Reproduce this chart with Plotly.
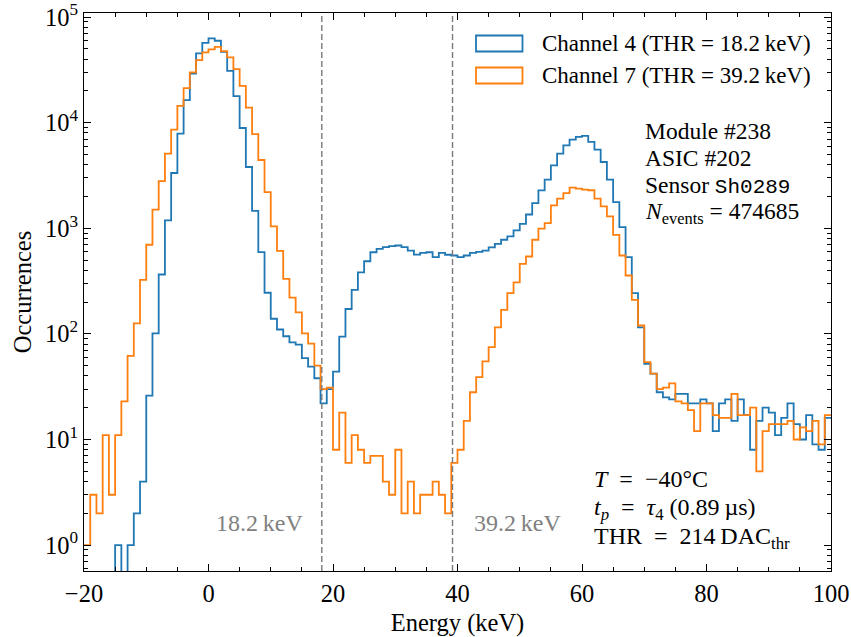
import numpy as np
import plotly.graph_objects as go

# ---------------- data ----------------
bin_left = list(range(-20, 100))          # 1 keV bins, left edges

ch4_counts = [
    0, 0, 0, 0, 0, 1, 0, 1, 2, 4,                       # -20 .. -11
    26, 101, 365, 1186, 3335, 7870, 16300, 29200, 45200, 57000,   # -10 .. -1
    62800, 59600, 46800, 30900, 17800, 8900, 3800, 1460, 595, 245,  # 0 .. 9
    139, 110, 95, 83, 79, 59, 49, 38, 22, 30,           # 10 .. 19
    44, 94, 172, 261, 383, 487, 593, 638, 662, 677,     # 20 .. 29
    687, 662, 615, 564, 585, 593, 532, 585, 561, 552,   # 30 .. 39
    532, 552, 585, 598, 615, 658, 710, 778, 836, 953,   # 40 .. 49
    1100, 1350, 1730, 2285, 2885, 3944, 5090, 6100, 6900, 7320,  # 50 .. 59
    7480, 6560, 5560, 4240, 2885, 1770, 1025, 532, 243, 115,     # 60 .. 69
    52, 42, 28, 25, 24, 27, 27, 22, 22, 24,             # 70 .. 79
    22, 12, 22, 24, 15, 24, 17, 8, 15, 20,              # 80 .. 89
    18, 11, 16, 22, 14, 10, 17, 9, 8, 16,               # 90 .. 99
]

ch7_counts = [
    1, 3, 2, 11, 3, 11, 23, 62, 126, 325,               # -20 .. -11
    698, 1500, 2800, 5090, 8600, 14400, 21200, 29900, 39000, 46200,  # -10 .. -1
    49400, 52200, 47600, 41500, 32100, 22300, 13900, 7800, 4430, 2200,  # 0 .. 9
    1040, 612, 331, 220, 160, 101, 81, 50, 30, 31,      # 10 .. 19
    8, 18, 6, 11, 8, 6, 7, 7, 4, 3,                     # 20 .. 29
    8, 2, 4, 2, 3, 3, 4, 3, 2, 6,                       # 30 .. 39
    8, 15, 28, 39, 55, 75, 115, 169, 243, 308,          # 40 .. 49
    460, 540, 778, 990, 1120, 1645, 1905, 2150, 2420, 2370,  # 50 .. 59
    2320, 2290, 1905, 1610, 1295, 867, 552, 357, 210, 120,   # 60 .. 69
    54, 42, 30, 31, 34, 23, 22, 19, 12, 22,             # 70 .. 79
    22, 17, 16, 16, 27, 17, 17, 20, 5, 12,              # 80 .. 89
    14, 14, 14, 15, 10, 13, 12, 15, 9, 17,              # 90 .. 99
]

bin_width = 1.0
thresholds = [18.2, 39.2]
threshold_labels = ["18.2\u2009keV", "39.2\u2009keV"]
series_names = ["Channel 4 (THR = 18.2\u2009keV)", "Channel 7 (THR = 39.2\u2009keV)"]
series_colors = ["#1f77b4", "#ff7f0e"]

x_tick_vals = [-20, 0, 20, 40, 60, 80, 100]
x_tick_text = ["\u221220", "0", "20", "40", "60", "80", "100"]
y_tick_vals = [1, 10, 100, 1000, 10000, 100000]
y_tick_text = ["10<sup>%d</sup>" % k for k in range(6)]

# ---------------- figure ----------------
W, H = 851, 637
ML, MR, MT, MB = 84, 20, 13, 66
PW, PH = W - ML - MR, H - MT - MB

def px(x):
    return (x - ML) / PW

def py(y):
    return (H - MB - y) / PH

FONT = "Liberation Serif"
EN = "\u2002"

fig = go.Figure()
edges = list(bin_left) + [bin_left[-1] + bin_width]
for counts, color in zip([ch4_counts, ch7_counts], series_colors):
    yv = [c if c > 0 else 1e-3 for c in counts]
    yv = yv + [yv[-1]]
    fig.add_trace(go.Scatter(x=edges, y=yv, mode="lines",
                             line=dict(color=color, width=1.8, shape="hv"),
                             showlegend=False, hoverinfo="skip"))

shapes = []
for t in thresholds:
    shapes.append(dict(type="line", xref="x", yref="paper", x0=t, x1=t, y0=0, y1=1,
                       line=dict(color="#7a7a7a", width=1.4, dash="6px,3px")))

# legend drawn by hand (rectangle patches like matplotlib step histograms)
leg_rows = [43.5, 75.5]
for yc, color in zip(leg_rows, series_colors):
    shapes.append(dict(type="rect", xref="paper", yref="paper",
                       x0=px(476), x1=px(522.5), y0=py(yc - 8), y1=py(yc + 8),
                       line=dict(color=color, width=1.8), fillcolor="rgba(0,0,0,0)"))

annotations = []
for yc, name in zip(leg_rows, series_names):
    annotations.append(dict(xref="paper", yref="paper", x=px(540), y=py(yc),
                            xanchor="left", yanchor="middle", showarrow=False,
                            text=name, font=dict(family=FONT, size=23, color="black")))

info_lines = [
    "Module #238",
    "ASIC #202",
    "Sensor <span style=\"font-family:'Liberation Mono';font-size:21px\">Sh0289</span>",
    "<i>N</i><sub>events</sub> = 474685",
]
for i, txt in enumerate(info_lines):
    annotations.append(dict(xref="paper", yref="paper", x=px(643), y=py(131 + 27.3 * i),
                            xanchor="left", yanchor="middle", showarrow=False,
                            text=txt, font=dict(family=FONT, size=23.5, color="black")))

cond_lines = [
    "<i>T</i>" + EN + "=" + EN + "\u221240\u00b0C",
    "<i>t<sub>p</sub></i>" + EN + "=" + EN + "<i>\u03c4</i><sub>4</sub> (0.89\u2009\u00b5s)",
    "THR" + EN + "=" + EN + "214\u2009DAC<sub>thr</sub>",
]
for i, txt in enumerate(cond_lines):
    annotations.append(dict(xref="paper", yref="paper", x=px(592), y=py(479 + 29.5 * i),
                            xanchor="left", yanchor="middle", showarrow=False,
                            text=txt, font=dict(family=FONT, size=24, color="black")))

label_x = [259, 517]
for lx, lab in zip(label_x, threshold_labels):
    annotations.append(dict(xref="paper", yref="paper", x=px(lx), y=py(523),
                            xanchor="center", yanchor="middle", showarrow=False,
                            text=lab, font=dict(family=FONT, size=24, color="#808080")))

minor_y = [m * 10 ** k for k in range(-1, 6) for m in range(2, 10)]
minor_x = [v for v in range(-20, 101, 5) if v % 20 != 0]

axis_common = dict(showline=True, linecolor="black", linewidth=1.2, mirror="allticks",
                   ticks="inside", ticklen=7, tickwidth=1, tickcolor="black",
                   showgrid=False, zeroline=False, automargin=False,
                   tickfont=dict(family=FONT, size=24.5, color="black"))

fig.update_layout(
    width=W, height=H,
    margin=dict(l=ML, r=MR, t=MT, b=MB),
    paper_bgcolor="white", plot_bgcolor="white",
    shapes=shapes, annotations=annotations,
    xaxis=dict(range=[-20, 100], tickmode="array", tickvals=x_tick_vals, ticktext=x_tick_text,
               minor=dict(tickmode="array", tickvals=minor_x, ticks="inside", ticklen=4,
                          tickwidth=1, tickcolor="black", showgrid=False),
               title=dict(text="Energy (keV)", font=dict(family=FONT, size=24.5, color="black"),
                          standoff=8),
               **axis_common),
    yaxis=dict(type="log", range=[-0.245, 5.038], tickmode="array", tickvals=y_tick_vals,
               ticktext=y_tick_text,
               minor=dict(tickmode="array", tickvals=minor_y, ticks="inside", ticklen=4,
                          tickwidth=1, tickcolor="black", showgrid=False),
               title=dict(text="Occurrences", font=dict(family=FONT, size=24.5, color="black"),
                          standoff=6),
               **axis_common),
)

fig.write_html("out.html", config={"displayModeBar": False},
               post_script="document.body.style.margin='0';document.body.style.overflow='hidden';")
